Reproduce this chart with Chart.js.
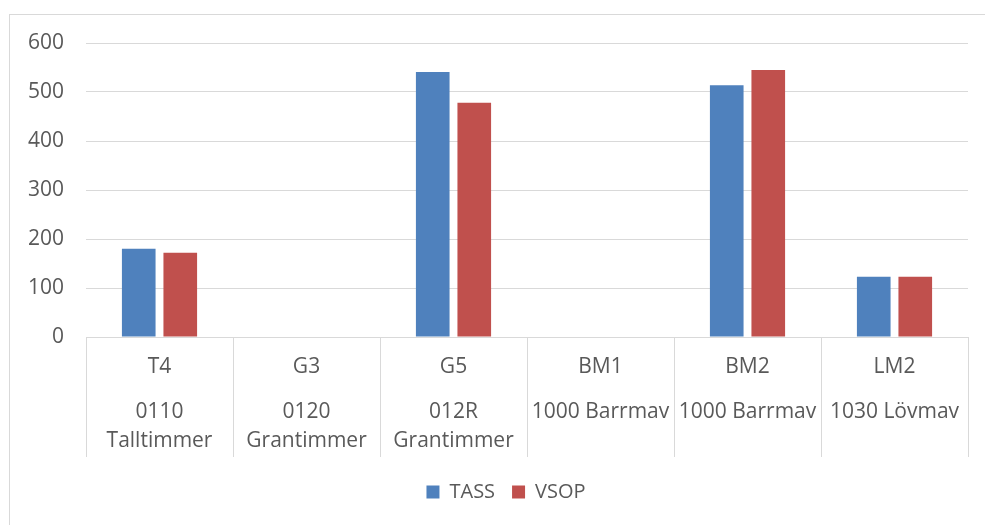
<!DOCTYPE html>
<html>
<head>
<meta charset="utf-8">
<script src="https://cdn.jsdelivr.net/npm/chart.js@4"></script>
<style>
  html, body { margin: 0; padding: 0; background: #ffffff; }
  #wrap { position: relative; width: 985px; height: 525px; overflow: hidden; }
  #frame { position: absolute; left: 9px; top: 14px; width: 1000px; height: 600px; border: 1px solid #d9d9d9; box-sizing: border-box; }
  canvas { position: absolute; left: 0; top: 0; }
</style>
</head>
<body>
<div id="wrap">
  <div id="frame"></div>
  <canvas id="c" width="985" height="525"></canvas>
</div>
<script>
// Assortment codes (upper category row) and their product groups (lower row)
const codes = ["T4", "G3", "G5", "BM1", "BM2", "LM2"];
const groups = [["0110", "Talltimmer"], ["0120", "Grantimmer"], ["012R", "Grantimmer"], "1000 Barrmav", "1000 Barrmav", "1030 Lövmav"];

// Volumes per assortment
const tass = [180, null, 541, null, 514, 123];
const vsop = [172, null, 478, null, 545, 123];

// Value axis ticks
const yTicks = [0, 100, 200, 300, 400, 500, 600];

const FONT = "'Open Sans', 'Noto Sans', sans-serif";
const TEXT = "#595959";
const GRID = "#d9d9d9";

// Centre the legend under the framed box rather than the whole canvas
const legendShift = {
  id: "legendShift",
  afterLayout(chart) {
    const lg = chart.legend;
    if (lg) { lg.left += 22; lg.right += 22; }
  }
};

new Chart(document.getElementById("c"), {
  type: "bar",
  data: {
    labels: codes,
    datasets: [
      { label: "TASS", data: tass, backgroundColor: "#4f81bd", xAxisID: "x" },
      { label: "VSOP", data: vsop, backgroundColor: "#c0504d", xAxisID: "x" }
    ]
  },
  plugins: [legendShift],
  options: {
    responsive: false,
    animation: false,
    categoryPercentage: 0.565,
    barPercentage: 0.81,
    layout: { padding: { top: 43, right: 17, bottom: 13, left: 0 } },
    plugins: {
      legend: {
        position: "bottom",
        labels: {
          boxWidth: 13,
          boxHeight: 13,
          padding: 17,
          color: TEXT,
          font: { family: FONT, size: 20 }
        }
      },
      tooltip: { enabled: false }
    },
    scales: {
      y: {
        min: 0,
        max: 600,
        afterBuildTicks: (s) => { s.ticks = yTicks.map(v => ({ value: v })); },
        afterFit: (s) => { s.width = 86; },
        border: { display: false },
        grid: { color: GRID, lineWidth: 1, drawTicks: false },
        ticks: { color: TEXT, padding: 22, font: { family: FONT, size: 21 } }
      },
      x: {
        position: "bottom",
        offset: true,
        afterFit: (s) => { s.height = 46; },
        border: { display: true, color: GRID },
        grid: { drawOnChartArea: false, drawTicks: true, tickLength: 120, color: GRID, offset: true },
        ticks: { color: TEXT, padding: -102, font: { family: FONT, size: 21, lineHeight: "24px" } }
      },
      x2: {
        type: "category",
        position: "bottom",
        offset: true,
        labels: groups,
        afterFit: (s) => { s.height = 82; },
        border: { display: false },
        grid: { display: false, drawTicks: false },
        ticks: { color: TEXT, padding: 15, font: { family: FONT, size: 21, lineHeight: "29px" } }
      }
    }
  }
});
</script>
</body>
</html>
